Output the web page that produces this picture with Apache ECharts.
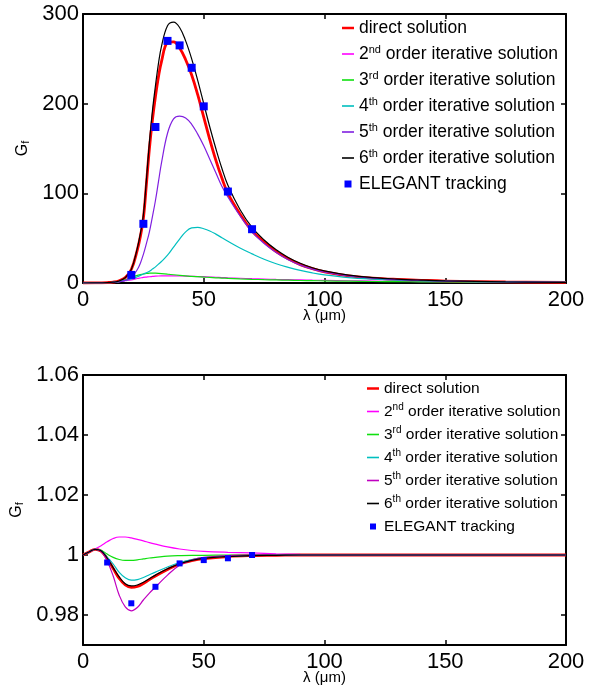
<!DOCTYPE html>
<html>
<head>
<meta charset="utf-8">
<script src="https://cdn.jsdelivr.net/npm/echarts@6/dist/echarts.min.js"></script>
<style>
  html, body { margin: 0; padding: 0; background: #fff; }
  .panel { width: 602px; height: 345px; }
</style>
</head>
<body>
<div id="top" class="panel"></div>
<div id="bottom" class="panel"></div>
<script>
// ---- top panel (G_f vs lambda) ----
var lambdaTop = [0, 5, 10, 12.5, 15, 17.5, 20, 22.5, 23.75, 25, 26.25, 27.5, 28.75, 30, 31.25, 32.5, 35, 37.5, 40, 42.5,
  45, 47.5, 50, 52.5, 55, 57.5, 60, 65, 70, 75, 80, 85, 90, 95, 100, 110, 120, 130, 140, 150, 175, 200];
var directTop = [0, 0.1, 0.5, 1, 2.5, 6, 15, 37, 52, 72, 110, 150, 182, 208, 230, 247, 268, 269, 262, 249,
  232, 210, 185, 160, 137, 117, 100, 77, 58, 46, 35, 27, 20.5, 16, 12.5, 8, 5.5, 4, 3, 2.2, 1.2, 0.7];
var order2Top = [0, 0.05, 0.3, 0.7, 1.5, 2.5, 3.5, 5, 5.6, 6.2, 6.6, 7, 7.3, 7.6, 7.8, 7.9, 8, 8, 7.9, 7.7,
  7.5, 7.2, 7, 6.7, 6.4, 6.1, 5.8, 5.3, 4.8, 4.4, 4, 3.7, 3.4, 3.1, 2.9, 2.5, 2.1, 1.8, 1.6, 1.4, 1.1, 0.8];
var order3Top = [0, 0.05, 0.3, 0.8, 1.8, 3.5, 6, 8.5, 9.3, 10, 10.6, 11, 11.1, 11, 10.8, 10.5, 9.8, 9.2, 8.6, 8,
  7.4, 7, 6.6, 6.2, 5.8, 5.5, 5.2, 4.6, 4.1, 3.7, 3.4, 3.1, 2.8, 2.6, 2.4, 2, 1.7, 1.5, 1.3, 1.2, 0.9, 0.7];
var order4Top = [0, 0.05, 0.3, 0.7, 1.5, 3, 4.5, 7, 8.5, 10, 11.5, 13, 15.5, 18, 21, 24, 31, 40, 49, 57,
  61.5, 62, 60.5, 58, 54.5, 50.5, 46.5, 39, 32.5, 26.5, 21.5, 17.5, 14, 11.2, 9, 6, 4.3, 3.2, 2.5, 2, 1.2, 0.8];
var order5Top = [0, 0.05, 0.3, 0.7, 1.5, 3, 6, 15, 22, 32, 44, 57, 74, 92, 113, 134, 167, 183, 186, 184,
  177, 166, 153, 138, 123, 108, 96, 75, 57, 44, 34, 26, 20, 15.5, 12, 7.8, 5.3, 3.8, 2.8, 2.1, 1.1, 0.6];
var order6Top = [0, 0.1, 0.4, 0.9, 2.3, 6, 15, 39, 55, 76, 115, 157, 192, 220, 245, 264, 287, 291, 285, 270,
  250, 226, 200, 174, 150, 128, 109, 82, 62, 48, 37, 28.5, 22, 17, 13.5, 8.8, 6, 4.3, 3.2, 2.4, 1.3, 0.8];
var elegantLambdaTop = [20, 25, 30, 35, 40, 45, 50, 60, 70];
var elegantTop = [9, 66, 174, 270, 265, 240, 197, 102, 60];

// ---- bottom panel ----
var lambdaBot = [0, 2.5, 5, 7.5, 10, 12.5, 15, 17.5, 20, 22.5, 25, 27.5, 30, 35, 40, 45, 50, 60, 70, 80,
  90, 100, 120, 150, 200];
var directBot = [1, 1.001, 1.0019, 1.0013, 0.9988, 0.9955, 0.9922, 0.99, 0.9892, 0.9895, 0.9905, 0.9918, 0.993,
  0.9952, 0.997, 0.9981, 0.9988, 0.9995, 0.9998, 0.9999, 1, 1, 1, 1, 1];
var order2Bot = [1, 1.001, 1.002, 1.0031, 1.0044, 1.0055, 1.006, 1.006, 1.0057, 1.0052, 1.0047, 1.0041, 1.0036,
  1.0027, 1.002, 1.0015, 1.0012, 1.0009, 1.0007, 1.0004, 1.0002, 1.0001, 1, 1, 1];
var order3Bot = [1, 1.001, 1.0019, 1.0016, 1.0003, 0.9992, 0.9985, 0.9982, 0.9982, 0.9984, 0.9987, 0.999, 0.9992,
  0.9996, 0.9998, 0.9999, 0.9999, 1, 1, 1, 1, 1, 1, 1, 1];
var order4Bot = [1, 1.001, 1.0019, 1.0015, 0.9993, 0.997, 0.9942, 0.9924, 0.9916, 0.9918, 0.9925, 0.9934, 0.9943,
  0.996, 0.9975, 0.9985, 0.9991, 0.9996, 0.9999, 1, 1, 1, 1, 1, 1];
var order5Bot = [1, 1.001, 1.0019, 1.0012, 0.998, 0.993, 0.9866, 0.9827, 0.9814, 0.9825, 0.985, 0.9873, 0.9893,
  0.9933, 0.9966, 0.9983, 0.9992, 0.9998, 1, 1, 1, 1, 1, 1, 1];
var order6Bot = [1, 1.001, 1.0019, 1.0014, 0.999, 0.9958, 0.9927, 0.9904, 0.9897, 0.99, 0.9909, 0.9921, 0.9933,
  0.9954, 0.9971, 0.9982, 0.9989, 0.9995, 0.9998, 0.9999, 1, 1, 1, 1, 1];
var elegantLambdaBot = [10, 20, 30, 40, 50, 60, 70];
var elegantBot = [0.9975, 0.9839, 0.9894, 0.9972, 0.9983, 0.9989, 1.0];

var xTicks = [0, 50, 100, 150, 200];
var yTicksBot = [0.98, 1, 1.02, 1.04, 1.06];

var names = ['direct solution', '2nd order iterative solution', '3rd order iterative solution',
  '4th order iterative solution', '5th order iterative solution', '6th order iterative solution',
  'ELEGANT tracking'];

var FONT = 'Liberation Sans';

function pairs(xs, ys) {
  return xs.map(function (x, i) { return [x, ys[i]]; });
}

function frameAxis(pos, min, max, labels, extra) {
  var ax = {
    type: 'value',
    min: min,
    max: max,
    position: pos,
    axisLine: { show: true, onZero: false, lineStyle: { color: '#000', width: 2 } },
    axisTick: { show: true, inside: true, length: 5, lineStyle: { color: '#000', width: 1.5 } },
    axisLabel: { show: labels, color: '#000', fontSize: 22, fontFamily: FONT, margin: pos === 'bottom' ? 6 : 4 },
    splitLine: { show: false }
  };
  return Object.assign(ax, extra || {});
}

function buildOption(cfg) {
  var colors = ['#ff0000', '#ff00ff', '#10e010', '#00bfbf', cfg.color5, '#000000'];
  var series = cfg.lines.map(function (ys, i) {
    return {
      name: names[i],
      type: 'line',
      data: pairs(cfg.lambda, ys),
      smooth: 0.4,
      symbol: 'none',
      color: colors[i],
      lineStyle: { color: colors[i], width: i === 0 ? 2.8 : 1.2 },
      z: 2 + i
    };
  });
  series.push({
    name: names[6],
    type: 'scatter',
    data: pairs(cfg.elegantX, cfg.elegantY),
    symbol: 'rect',
    symbolSize: cfg.sqSize,
    color: '#0000ff',
    itemStyle: { color: '#0000ff', opacity: 1 },
    z: 10
  });

  var xTickStep = xTicks[1] - xTicks[0];
  var yExtraL = cfg.yCustom ? {
    axisLabel: { show: true, color: '#000', fontSize: 22, fontFamily: FONT, margin: 4, customValues: cfg.yCustom },
    axisTick: { show: true, inside: true, length: 5, lineStyle: { color: '#000', width: 1.5 }, customValues: cfg.yCustom }
  } : { interval: cfg.yInterval };
  var yExtraR = cfg.yCustom ? {
    axisTick: { show: true, inside: true, length: 5, lineStyle: { color: '#000', width: 1.5 }, customValues: cfg.yCustom }
  } : { interval: cfg.yInterval };

  return {
    animation: false,
    backgroundColor: '#fff',
    grid: { left: 83, right: 36, top: cfg.top, bottom: cfg.bottom },
    legend: {
      orient: 'vertical',
      left: cfg.legendLeft,
      top: cfg.legendTop,
      padding: 0,
      itemWidth: 12,
      itemHeight: cfg.legendSq,
      itemGap: cfg.legendGap,
      data: names.map(function (n, i) {
        if (i === 6) return { name: n, icon: 'path://M0,0 L1,0 L1,1 L0,1 Z', itemStyle: { color: '#0000ff', opacity: 1 } };
        var h = i === 0 ? 2.5 : 1.6;
        return { name: n, icon: 'path://M0,0 L12,0 L12,' + h + ' L0,' + h + ' Z', itemStyle: { color: colors[i] } };
      }),
      formatter: function (n) { return n.replace(/^(\d)(nd|rd|th)/, '$1{sup|$2}'); },
      textStyle: {
        color: '#000', fontSize: cfg.legendFont, fontFamily: FONT, lineHeight: cfg.legendLine,
        rich: { sup: { fontSize: Math.round(cfg.legendFont * 0.65), fontFamily: FONT, color: '#000', verticalAlign: 'top', lineHeight: cfg.legendLine } }
      }
    },
    xAxis: [
      frameAxis('bottom', xTicks[0], xTicks[xTicks.length - 1], true, {
        interval: xTickStep,
        name: 'λ (μm)',
        nameLocation: 'middle',
        nameGap: cfg.xNameGap,
        nameMoveOverlap: false,
        nameTextStyle: { color: '#000', fontSize: 15, fontFamily: FONT }
      }),
      frameAxis('top', xTicks[0], xTicks[xTicks.length - 1], false, { interval: xTickStep })
    ],
    yAxis: [
      frameAxis('left', cfg.ymin, cfg.ymax, true, Object.assign({
        name: 'G{sub|f}',
        nameLocation: 'middle',
        nameGap: cfg.yNameGap,
        nameRotate: 90,
        nameTextStyle: {
          color: '#000', fontSize: 16, fontFamily: FONT,
          rich: { sub: { fontSize: 11, fontFamily: FONT, color: '#000', verticalAlign: 'bottom', padding: [6, 0, 0, 0] } }
        }
      }, yExtraL)),
      frameAxis('right', cfg.ymin, cfg.ymax, false, yExtraR)
    ],
    series: series
  };
}

var topChart = echarts.init(document.getElementById('top'));
topChart.setOption(buildOption({
  lambda: lambdaTop,
  lines: [directTop, order2Top, order3Top, order4Top, order5Top, order6Top],
  elegantX: elegantLambdaTop, elegantY: elegantTop,
  color5: '#8020e0',
  sqSize: 8,
  top: 14, bottom: 62,
  ymin: 0, ymax: 300, yInterval: 100,
  legendLeft: 342, legendTop: 18, legendSq: 7, legendGap: 6, legendFont: 17.5, legendLine: 20,
  xNameGap: 25, yNameGap: 46
}));

var botChart = echarts.init(document.getElementById('bottom'));
botChart.setOption(buildOption({
  lambda: lambdaBot,
  lines: [directBot, order2Bot, order3Bot, order4Bot, order5Bot, order6Bot],
  elegantX: elegantLambdaBot, elegantY: elegantBot,
  color5: '#c000c0',
  sqSize: 6,
  top: 30, bottom: 44,
  ymin: 0.97, ymax: 1.06, yCustom: yTicksBot,
  legendLeft: 367, legendTop: 34, legendSq: 6, legendGap: 4, legendFont: 15.5, legendLine: 19,
  xNameGap: 25, yNameGap: 53
}));
</script>
</body>
</html>
